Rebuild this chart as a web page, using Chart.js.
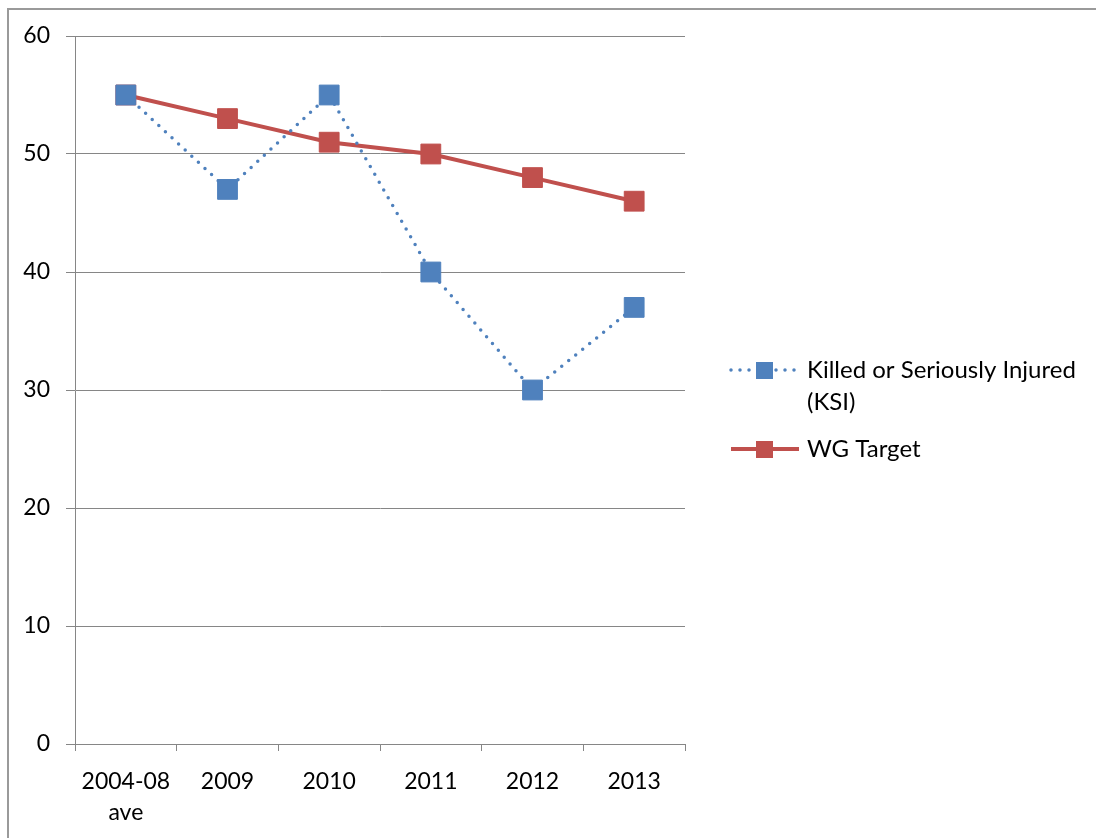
<!DOCTYPE html>
<html>
<head>
<meta charset="utf-8">
<script src="https://cdn.jsdelivr.net/npm/chart.js@4/dist/chart.umd.min.js"></script>
<style>
  html, body { margin: 0; padding: 0; background: #fff; }
  #wrap { position: relative; width: 1096px; height: 838px; }
  canvas { display: block; }
</style>
</head>
<body>
<div id="wrap"><canvas id="c" width="1096" height="838"></canvas></div>
<script>
const categories = [["2004-08", "ave"], "2009", "2010", "2011", "2012", "2013"];
const ksiValues = [55, 47, 55, 40, 30, 37];
const targetValues = [55, 53, 51, 50, 48, 46];
const yTicks = [0, 10, 20, 30, 40, 50, 60];
const seriesNames = [["Killed or Seriously Injured", "(KSI)"], ["WG Target"]];

const BLUE = '#4F81BD';
const RED = '#C0504D';
const GRID = '#868686';
const FONT = 'Lato, "Open Sans", sans-serif';

const framePlugin = {
  id: 'frame',
  beforeDraw(chart) {
    const ctx = chart.ctx;
    ctx.save();
    ctx.fillStyle = '#fff';
    ctx.fillRect(0, 0, chart.width, chart.height);
    ctx.strokeStyle = '#9a9a9a';
    ctx.lineWidth = 2;
    ctx.strokeRect(8, 9, 1300, 1000);
    ctx.restore();
  }
};

const legendPlugin = {
  id: 'customLegend',
  afterDraw(chart) {
    const ctx = chart.ctx;
    ctx.save();
    ctx.font = '24px ' + FONT;
    ctx.fillStyle = '#000';
    ctx.textBaseline = 'middle';
    const entries = [
      { y: 370, ds: chart.data.datasets[0], lines: seriesNames[0] },
      { y: 449, ds: chart.data.datasets[1], lines: seriesNames[1] }
    ];
    entries.forEach(e => {
      const ds = e.ds;
      ctx.save();
      ctx.strokeStyle = ds.borderColor;
      ctx.lineWidth = ds.borderWidth;
      ctx.lineCap = ds.borderCapStyle || 'butt';
      ctx.setLineDash(ds.borderDash || []);
      ctx.beginPath();
      ctx.moveTo(731, e.y);
      ctx.lineTo(799, e.y);
      ctx.stroke();
      ctx.setLineDash([]);
      ctx.fillStyle = ds.pointBackgroundColor;
      ctx.fillRect(756, e.y - 8, 17, 17);
      ctx.restore();
      e.lines.forEach((t, i) => ctx.fillText(t, 807, e.y + i * 32));
    });
    ctx.restore();
  }
};

new Chart(document.getElementById('c'), {
  type: 'line',
  data: {
    labels: categories,
    datasets: [
      {
        label: seriesNames[0].join(' '),
        data: ksiValues,
        borderColor: BLUE,
        backgroundColor: BLUE,
        borderWidth: 3.5,
        borderDash: [0, 9],
        borderCapStyle: 'round',
        pointStyle: 'rect',
        pointRadius: 14,
        pointBorderWidth: 1,
        pointBackgroundColor: BLUE,
        pointBorderColor: BLUE,
        tension: 0,
        fill: false
      },
      {
        label: seriesNames[1].join(' '),
        data: targetValues,
        borderColor: RED,
        backgroundColor: RED,
        borderWidth: 4,
        pointStyle: 'rect',
        pointRadius: 14,
        pointBorderWidth: 1,
        pointBackgroundColor: RED,
        pointBorderColor: RED,
        tension: 0,
        fill: false
      }
    ]
  },
  options: {
    responsive: false,
    animation: false,
    devicePixelRatio: 1,
    layout: { padding: { top: 36, right: 411, bottom: 0, left: 0 } },
    plugins: { legend: { display: false }, tooltip: { enabled: false } },
    scales: {
      x: {
        type: 'category',
        offset: true,
        grid: { offset: true, drawOnChartArea: false, tickLength: 7, color: GRID, lineWidth: 1 },
        border: { color: GRID, width: 1 },
        ticks: { color: '#000', font: { family: FONT, size: 23, lineHeight: 1.35 }, padding: 15, maxRotation: 0, autoSkip: false },
        afterFit(scale) { scale.height = 94; }
      },
      y: {
        min: 0,
        max: 60,
        afterBuildTicks(scale) { scale.ticks = yTicks.map(v => ({ value: v })); },
        grid: { color: GRID, lineWidth: 1, tickLength: 9 },
        border: { color: GRID, width: 1 },
        ticks: { color: '#000', font: { family: FONT, size: 23 }, padding: 16 },
        afterFit(scale) { scale.width = 75; }
      }
    }
  },
  plugins: [framePlugin, legendPlugin]
});
</script>
</body>
</html>
